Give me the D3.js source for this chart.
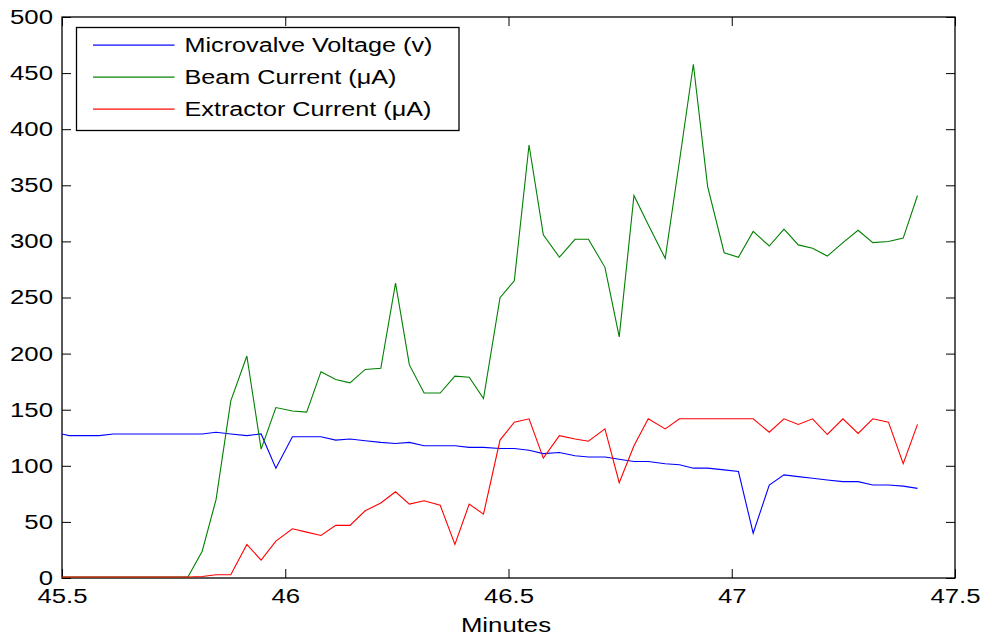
<!DOCTYPE html>
<html>
<head>
<meta charset="utf-8">
<script src="https://cdn.jsdelivr.net/npm/d3@7"></script>
<style>
  body { margin: 0; background: #fff; }
  svg { display: block; }
  text { font-family: "Liberation Sans", Arial, Helvetica, sans-serif; fill: #000; }
</style>
</head>
<body>
<svg id="chart" width="985" height="636"></svg>
<script>
// Sample times (minutes) shared by all three traces
const minutes = [
  45.483, 45.516, 45.549, 45.583, 45.615, 45.648, 45.681, 45.715, 45.749, 45.782,
  45.814, 45.845, 45.878, 45.914, 45.946, 45.979, 46.016, 46.048, 46.080, 46.113,
  46.145, 46.179, 46.214, 46.247, 46.278, 46.311, 46.347, 46.380, 46.412, 46.444,
  46.481, 46.513, 46.546, 46.578, 46.614, 46.649, 46.679, 46.716, 46.748, 46.781,
  46.813, 46.851, 46.883, 46.914, 46.946, 46.983, 47.015, 47.048, 47.084, 47.117,
  47.149, 47.181, 47.214, 47.249, 47.283, 47.316, 47.351, 47.384, 47.416
];

// Microvalve voltage (v)
const microvalveVoltage = [
  129, 126, 126, 126, 127.5, 127.5, 127.5, 127.5, 127.5, 127.5,
  127.5, 129, 127.5, 126, 127.5, 97, 125, 125, 125, 122,
  123, 121.5, 120, 119, 120, 117, 117, 117, 115.5, 115.5,
  114.5, 114.5, 113, 110, 111, 108, 107, 107, 105, 103,
  103, 101, 100, 97, 97, 95.5, 94, 39, 82, 91,
  89.5, 88, 86.5, 85, 85, 82, 82, 81, 79
];

// Beam current (uA)
const beamCurrent = [
  0, 0, 0, 0, 0, 0, 0, 0, 0, 0,
  23, 69, 157, 197, 114, 151, 148, 147, 183, 176,
  173, 185, 186, 262, 189, 164, 164, 179, 178, 159,
  249, 264, 385, 305, 285, 301, 301, 276, 214, 340,
  314, 284, 371, 457, 348, 289, 285, 308, 295, 310,
  296, 293, 286, 298, 309, 298, 299, 302, 340
];

// Extractor current (uA)
const extractorCurrent = [
  0, 0, 0, 0, 0, 0, 0, 0, 0, 0,
  0.5, 2, 2, 29, 15, 32, 43, 40, 37, 46,
  46, 59, 66, 76, 65, 68, 64, 29, 65, 56,
  122, 138, 141, 106, 126, 123, 121, 132, 84, 117,
  141, 132, 141, 141, 141, 141, 141, 141, 129, 141,
  136, 141, 127, 141, 128, 141, 138, 101, 136
];

const seriesNames = ["Microvalve Voltage (v)", "Beam Current (\u03bcA)", "Extractor Current (\u03bcA)"];
const seriesColors = ["#0000ff", "#008000", "#ff0000"];

const xTickValues = [45.5, 46, 46.5, 47, 47.5];
const xTickLabels = ["45.5", "46", "46.5", "47", "47.5"];
const yTickValues = [0, 50, 100, 150, 200, 250, 300, 350, 400, 450, 500];
const yTickLabels = ["0", "50", "100", "150", "200", "250", "300", "350", "400", "450", "500"];
const xAxisTitle = "Minutes";

// ---- layout ----
const plot = { left: 62, right: 955, top: 17, bottom: 578 };
const tickLen = 9;
const tickFont = 19.5;
const stretch = 1.32;   // wide glyph look of the labels

const x = d3.scaleLinear().domain([45.5, 47.5]).range([plot.left, plot.right]);
const y = d3.scaleLinear().domain([0, 500]).range([plot.bottom, plot.top]);

const svg = d3.select("#chart");

// widen a text element horizontally, keeping its anchor
function widen(sel, factor) {
  sel.each(function () {
    const w = this.getComputedTextLength();
    d3.select(this).attr("textLength", w * factor).attr("lengthAdjust", "spacingAndGlyphs");
  });
}

svg.append("defs").append("clipPath").attr("id", "plotClip")
  .append("rect")
  .attr("x", plot.left).attr("y", plot.top)
  .attr("width", plot.right - plot.left)
  .attr("height", plot.bottom - plot.top + 1);

// ---- axes (ticks point inward on all four sides) ----
const axisBottom = svg.append("g")
  .attr("transform", `translate(0,${plot.bottom})`)
  .call(d3.axisBottom(x).tickValues(xTickValues)
    .tickFormat((d, i) => xTickLabels[i])
    .tickSizeInner(-tickLen).tickSizeOuter(0).tickPadding(11));

const axisLeft = svg.append("g")
  .attr("transform", `translate(${plot.left},0)`)
  .call(d3.axisLeft(y).tickValues(yTickValues)
    .tickFormat((d, i) => yTickLabels[i])
    .tickSizeInner(-tickLen).tickSizeOuter(0).tickPadding(9));

const axisTop = svg.append("g")
  .attr("transform", `translate(0,${plot.top})`)
  .call(d3.axisTop(x).tickValues(xTickValues).tickFormat("")
    .tickSizeInner(-tickLen).tickSizeOuter(0));

const axisRight = svg.append("g")
  .attr("transform", `translate(${plot.right},0)`)
  .call(d3.axisRight(y).tickValues(yTickValues).tickFormat("")
    .tickSizeInner(-tickLen).tickSizeOuter(0));

[axisBottom, axisLeft, axisTop, axisRight].forEach(a => {
  a.select(".domain").remove();
  a.selectAll(".tick line").attr("stroke", "#000").attr("stroke-width", 1);
  a.selectAll(".tick text")
    .attr("font-size", tickFont)
    .attr("font-family", null)
    .attr("fill", "#000");
});
axisLeft.selectAll(".tick text").attr("dy", "0.33em");
widen(axisBottom.selectAll(".tick text"), stretch);
widen(axisLeft.selectAll(".tick text"), stretch);

// plot frame
svg.append("rect")
  .attr("x", plot.left).attr("y", plot.top)
  .attr("width", plot.right - plot.left)
  .attr("height", plot.bottom - plot.top)
  .attr("fill", "none")
  .attr("stroke", "#000")
  .attr("stroke-width", 1.3);

// ---- data traces (drawn over the frame, nudged up so the zero level stays visible) ----
const series = [microvalveVoltage, beamCurrent, extractorCurrent];
const line = d3.line()
  .x((d, i) => x(minutes[i]))
  .y(d => y(d) - 1);

const traces = svg.append("g").attr("clip-path", "url(#plotClip)");
series.forEach((vals, k) => {
  traces.append("path")
    .datum(vals)
    .attr("d", line)
    .attr("fill", "none")
    .attr("stroke", seriesColors[k])
    .attr("stroke-width", 1.1)
    .attr("stroke-linejoin", "miter");
});

// x-axis title
const xTitle = svg.append("text")
  .attr("x", 506)
  .attr("y", 631.5)
  .attr("text-anchor", "middle")
  .attr("font-size", tickFont)
  .text(xAxisTitle);
widen(xTitle, stretch);

// ---- legend ----
const legend = { x: 76.5, y: 27.5, w: 382.5, h: 103 };
const legendG = svg.append("g");
legendG.append("rect")
  .attr("x", legend.x).attr("y", legend.y)
  .attr("width", legend.w).attr("height", legend.h)
  .attr("fill", "#fff")
  .attr("stroke", "#000")
  .attr("stroke-width", 1.3);

const rowY = [45, 77, 109];
seriesNames.forEach((name, k) => {
  legendG.append("rect")
    .attr("x", 93).attr("y", rowY[k] - 0.5)
    .attr("width", 81.5).attr("height", 1.2)
    .attr("fill", seriesColors[k]);
  const t = legendG.append("text")
    .attr("x", 184.5)
    .attr("y", rowY[k])
    .attr("dy", "0.35em")
    .attr("font-size", 20)
    .text(name);
  widen(t, 1.26);
});
</script>
</body>
</html>
